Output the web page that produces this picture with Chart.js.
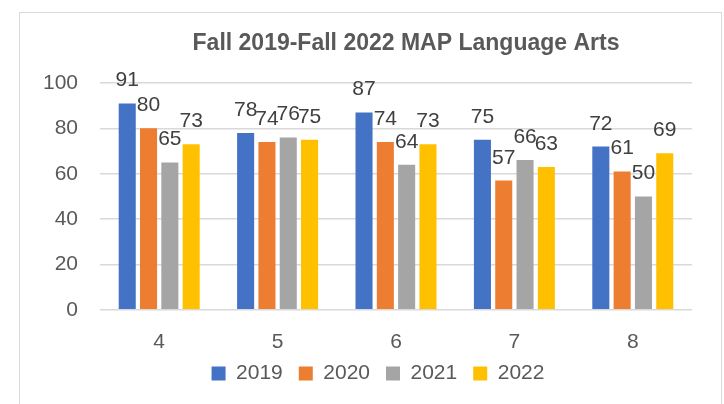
<!DOCTYPE html>
<html>
<head>
<meta charset="utf-8">
<script src="https://cdn.jsdelivr.net/npm/chart.js@4"></script>
<style>
	html, body { margin:0; padding:0; background:#fff; }
	#wrap { position:relative; width:724px; height:404px; }
	#frame { position:absolute; left:19px; top:12px; width:703px; height:420px; border:1px solid #d9d9d9; box-sizing:border-box; }
	canvas { position:absolute; left:0; top:0; }
</style>
</head>
<body>
<div id="wrap">
	<div id="frame"></div>
	<canvas id="chart" width="724" height="404"></canvas>
</div>
<script>
const grades = ['4', '5', '6', '7', '8'];
const y2019 = [91, 78, 87, 75, 72];
const y2020 = [80, 74, 74, 57, 61];
const y2021 = [65, 76, 64, 66, 50];
const y2022 = [73, 75, 73, 63, 69];
const yTicks = [0, 20, 40, 60, 80, 100];
const chartTitle = 'Fall 2019-Fall 2022 MAP Language Arts';

const FONT = '"Liberation Sans", Arial, sans-serif';
const TXT = '#595959';

// value labels above each bar + title placed over the plot
const barLabels = {
	id: 'barLabels',
	afterLayout(chart) {
		// legend sits a bit right of centre and tighter to the axis in the original
		const lg = chart.legend;
		lg.left += 32; lg.right += 32;
		lg.top -= 20; lg.bottom -= 20;
	},
	afterDatasetsDraw(chart) {
		const ctx = chart.ctx;
		ctx.save();
		ctx.font = '21px ' + FONT;
		ctx.fillStyle = '#404040';
		ctx.textAlign = 'center';
		ctx.textBaseline = 'alphabetic';
		chart.data.datasets.forEach((ds, i) => {
			chart.getDatasetMeta(i).data.forEach((bar, j) => {
				ctx.fillText(String(ds.data[j]), bar.x, bar.y - 17);
			});
		});
		ctx.font = 'bold 23px ' + FONT;
		ctx.fillStyle = TXT;
		ctx.textBaseline = 'middle';
		const a = chart.chartArea;
		ctx.fillText(chartTitle, (a.left + a.right) / 2 + 10, 44);
		ctx.restore();
	}
};

const mk = (label, data, color) => ({ label, data, backgroundColor: color, borderWidth: 0 });

new Chart(document.getElementById('chart'), {
	type: 'bar',
	data: {
		labels: grades,
		datasets: [
			mk('2019', y2019, '#4472C4'),
			mk('2020', y2020, '#ED7D31'),
			mk('2021', y2021, '#A5A5A5'),
			mk('2022', y2022, '#FFC000')
		]
	},
	options: {
		responsive: false,
		animation: false,
		events: [],
		categoryPercentage: 0.72,
		barPercentage: 0.8,
		layout: { padding: { top: 83, right: 32, bottom: -10, left: 0 } },
		plugins: {
			tooltip: { enabled: false },
			title: { display: false },
			legend: {
				position: 'bottom',
				labels: {
					color: TXT,
					font: { family: FONT, size: 21 },
					boxWidth: 14,
					boxHeight: 14,
					padding: 16
				}
			}
		},
		scales: {
			x: {
				grid: { display: false },
				border: { display: false },
				ticks: { color: TXT, font: { family: FONT, size: 21 }, padding: 12 }
			},
			y: {
				min: 0,
				max: 100,
				afterBuildTicks: (s) => { s.ticks = yTicks.map(v => ({ value: v })); },
				afterFit: (s) => { s.width = 100; },
				grid: { color: '#d9d9d9', lineWidth: 1.5, drawTicks: false },
				border: { display: false },
				ticks: { color: TXT, font: { family: FONT, size: 21 }, padding: 22 }
			}
		}
	},
	plugins: [barLabels]
});
</script>
</body>
</html>
